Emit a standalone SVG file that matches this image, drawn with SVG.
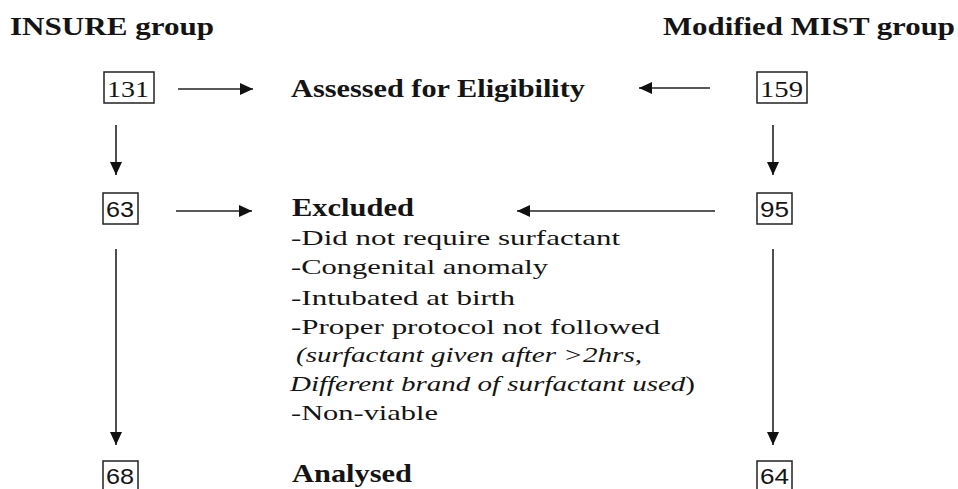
<svg xmlns="http://www.w3.org/2000/svg" width="958" height="489" viewBox="0 0 958 489">
<defs>
<marker id="ah" markerUnits="userSpaceOnUse" markerWidth="14" markerHeight="12" refX="13" refY="6" orient="auto">
<path d="M0,0 L13,6 L0,12 Z" fill="#111"/>
</marker>
<style>
text{font-family:'Liberation Serif','Times New Roman',Times,serif;fill:#141414}
.b{font-weight:bold;font-size:25px}
.r{font-size:22px}
.i{font-size:22px;font-style:italic}
.n{font-size:23px}
.s{font-family:'Liberation Sans',Arial,sans-serif;font-size:22px}
.box{fill:#fff;stroke:#222;stroke-width:1.5}
.c{stroke:#222;stroke-width:1.6;fill:none;marker-end:url(#ah)}
</style>
</defs>
<rect width="958" height="489" fill="#fff"/>
<g id="titles">
<text class="b" x="10" y="35" textLength="204" lengthAdjust="spacingAndGlyphs">INSURE group</text>
<text class="b" x="663" y="35" textLength="292" lengthAdjust="spacingAndGlyphs">Modified MIST group</text>
</g>
<g id="n131"><rect class="box" x="104" y="72" width="50" height="31"/><text class="n" x="107" y="97" textLength="42" lengthAdjust="spacingAndGlyphs">131</text></g>
<g id="n159"><rect class="box" x="757" y="72" width="50" height="31"/><text class="n" x="760" y="97" textLength="43" lengthAdjust="spacingAndGlyphs">159</text></g>
<g id="n63"><rect class="box" x="103" y="193" width="35" height="31"/><text class="s" x="106" y="217" textLength="28" lengthAdjust="spacingAndGlyphs">63</text></g>
<g id="n95"><rect class="box" x="757" y="193" width="35" height="31"/><text class="s" x="760" y="217" textLength="29" lengthAdjust="spacingAndGlyphs">95</text></g>
<g id="n68"><rect class="box" x="103" y="461" width="35" height="40"/><text class="s" x="106" y="484" textLength="28" lengthAdjust="spacingAndGlyphs">68</text></g>
<g id="n64"><rect class="box" x="757" y="461" width="35" height="40"/><text class="s" x="760" y="484" textLength="29" lengthAdjust="spacingAndGlyphs">64</text></g>
<g id="assessed"><text class="b" x="291" y="97" textLength="294" lengthAdjust="spacingAndGlyphs">Assessed for Eligibility</text></g>
<g id="excluded">
<text class="b" x="292" y="216" textLength="122" lengthAdjust="spacingAndGlyphs">Excluded</text>
<text class="r" x="291" y="245" textLength="329" lengthAdjust="spacingAndGlyphs">-Did not require surfactant</text>
<text class="r" x="291" y="274" textLength="257" lengthAdjust="spacingAndGlyphs">-Congenital anomaly</text>
<text class="r" x="291" y="305" textLength="224" lengthAdjust="spacingAndGlyphs">-Intubated at birth</text>
<text class="r" x="291" y="334" textLength="369" lengthAdjust="spacingAndGlyphs">-Proper protocol not followed</text>
<text class="i" x="296" y="362" textLength="346" lengthAdjust="spacingAndGlyphs">(surfactant given after &gt;2hrs,</text>
<text class="r" x="290" y="391" textLength="405" lengthAdjust="spacingAndGlyphs"><tspan font-style="italic">Different brand of surfactant used</tspan>)</text>
<text class="r" x="291" y="420" textLength="147" lengthAdjust="spacingAndGlyphs">-Non-viable</text>
</g>
<g id="analysed"><text class="b" x="292" y="482" textLength="120" lengthAdjust="spacingAndGlyphs">Analysed</text></g>
<g id="connectors">
<line class="c" x1="178" y1="89" x2="253" y2="89"/>
<line class="c" x1="710" y1="88" x2="639" y2="88"/>
<line class="c" x1="176" y1="211" x2="252" y2="211"/>
<line class="c" x1="715" y1="211" x2="517" y2="211"/>
<line class="c" x1="116" y1="125" x2="116" y2="175"/>
<line class="c" x1="773" y1="125" x2="773" y2="175"/>
<line class="c" x1="116" y1="249" x2="116" y2="445"/>
<line class="c" x1="773" y1="249" x2="773" y2="445"/>
</g>
</svg>
